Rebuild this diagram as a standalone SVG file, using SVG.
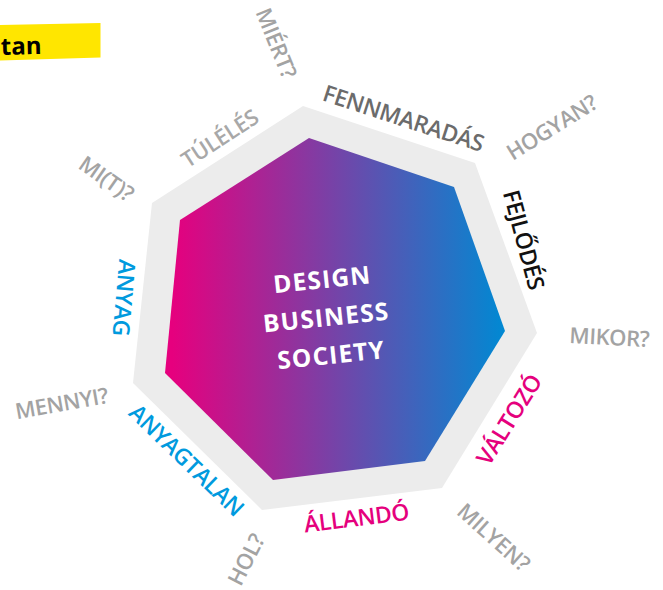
<svg xmlns="http://www.w3.org/2000/svg" width="663" height="590" viewBox="0 0 663 590">
  <defs>
    <linearGradient id="grad" gradientUnits="userSpaceOnUse" x1="172" y1="0" x2="505" y2="0">
      <stop offset="0" stop-color="#e6007e"/>
      <stop offset="1" stop-color="#0089d3"/>
    </linearGradient>
    <style>
      text { font-family: "Open Sans", "Liberation Sans", sans-serif; font-weight: 600; text-anchor: middle; }
      .q { font-size: 22px; fill: #a3a3a3; letter-spacing: -0.4px; }
      .cat { font-size: 23px; letter-spacing: -0.4px; }
      .gray { fill: #a8a8a8; }
      .dark { fill: #6b6b6b; }
      .black { fill: #111111; }
      .blue { fill: #009ade; }
      .mag { fill: #e5007d; }
      .center { font-size: 24.5px; font-weight: 700; fill: #ffffff; letter-spacing: 1.2px; }
    </style>
  </defs>
  <rect width="663" height="590" fill="#ffffff"/>

  <g id="title-tag">
    <polygon points="0,25 100.5,23 100.5,57.5 0,60.5" fill="#ffe600"/>
    <text x="1" y="55" transform="rotate(-1.5 1 55)" style="font-size:24px;font-weight:700;fill:#000;text-anchor:start">tan</text>
  </g>

  <g id="hexagon">
    <polygon points="303,106 475,163 537,333 442,488 262,510 133,383 152,203" fill="#ececec"/>
    <polygon points="309,138 454,187 505,331 425,461 273,480 165,373 180,220" fill="url(#grad)"/>
    <g transform="rotate(-6 327 325)">
      <text class="center" x="327" y="288">DESIGN</text>
      <text class="center" x="327" y="326">BUSINESS</text>
      <text class="center" x="328" y="364">SOCIETY</text>
    </g>
  </g>

  <g id="label-fennmaradas"><text class="cat dark" transform="translate(401 126) rotate(18)">FENNMARADÁS</text></g>
  <g id="label-tuleles"><text class="q gray" transform="translate(224 145) rotate(-33)">TÚLÉLÉS</text></g>
  <g id="label-fejlodes"><text class="cat black" transform="translate(516 242) rotate(75)">FEJLŐDÉS</text></g>
  <g id="label-valtozo"><text class="cat mag" transform="translate(516 424) rotate(-58)">VÁLTOZÓ</text></g>
  <g id="label-allando"><text class="cat mag" transform="translate(357.5 526) rotate(-7)">ÁLLANDÓ</text></g>
  <g id="label-anyagtalan"><text class="cat blue" transform="translate(181 466) rotate(44)">ANYAGTALAN</text></g>
  <g id="label-anyag"><text class="cat blue" transform="translate(116 297) rotate(95)">ANYAG</text></g>

  <g id="q-miert"><text class="q" transform="translate(269 46) rotate(68)">MIÉRT?</text></g>
  <g id="q-hogyan"><text class="q" transform="translate(556 134) rotate(-32)">HOGYAN?</text></g>
  <g id="q-mikor"><text class="q" transform="translate(609 345) rotate(3)">MIKOR?</text></g>
  <g id="q-milyen"><text class="q" transform="translate(488.5 543) rotate(42)">MILYEN?</text></g>
  <g id="q-hol"><text class="q" transform="translate(253 563) rotate(-63)">HOL?</text></g>
  <g id="q-mennyi"><text class="q" transform="translate(63 411) rotate(-10)">MENNYI?</text></g>
  <g id="q-mit"><text class="q" transform="translate(102 185) rotate(35)">MI(T)?</text></g>
</svg>
